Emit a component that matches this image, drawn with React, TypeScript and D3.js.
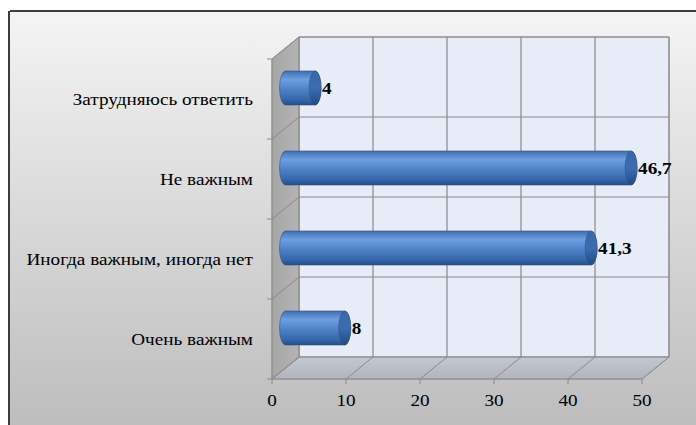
import React from "react";
import * as d3 from "d3";

const categories = ["Затрудняюсь ответить", "Не важным", "Иногда важным, иногда нет", "Очень важным"];
const values = [4, 46.7, 41.3, 8];
const valueLabels = ["4", "46,7", "41,3", "8"];
const xTicks = [0, 10, 20, 30, 40, 50];

const W = 696, H = 425;
const DX = -27, DY = 22;
const STRETCH = 1.13;

export default function App() {
  const x = d3.scaleLinear().domain([0, 50]).range([299, 669]);
  const y = d3.scaleBand<string>().domain(categories).range([37, 357]).paddingInner(0);
  const bw = y.bandwidth();
  const boundaries = d3.range(categories.length + 1).map((i) => 37 + i * bw);
  const mx = DX / 2, my = DY / 2;
  const barH = 34, rx = 6, ry = barH / 2;
  const serif = "'Liberation Serif', 'Times New Roman', serif";
  const [bx0, bx1] = x.range();
  const [by0, by1] = y.range();

  const T = (props: { x: number; y: number; anchor?: string; bold?: boolean; size: number; children: any }) => (
    <g transform={`translate(${props.x},${props.y}) scale(${STRETCH},1)`}>
      <text
        x={0}
        y={0}
        dy="0.35em"
        textAnchor={props.anchor || "start"}
        fontFamily={serif}
        fontWeight={props.bold ? "bold" : "normal"}
        fontSize={props.size}
        fill="#000"
      >
        {props.children}
      </text>
    </g>
  );

  return (
    <svg width={W} height={H} style={{ position: "fixed", left: 0, top: 0 }}>
      <defs>
        <linearGradient id="bg" x1="0" y1="0" x2="0" y2="1">
          <stop offset="0" stopColor="#f4f4f4" />
          <stop offset="1" stopColor="#bdbdbd" />
        </linearGradient>
        <linearGradient id="bar" x1="0" y1="0" x2="0" y2="1">
          <stop offset="0" stopColor="#3f6eae" />
          <stop offset="0.25" stopColor="#6c9fe0" />
          <stop offset="0.5" stopColor="#5286cc" />
          <stop offset="0.85" stopColor="#3466a8" />
          <stop offset="1" stopColor="#244e86" />
        </linearGradient>
        <linearGradient id="cap" x1="0" y1="0" x2="0" y2="1">
          <stop offset="0" stopColor="#3a68a6" />
          <stop offset="0.5" stopColor="#3b6db0" />
          <stop offset="1" stopColor="#234b82" />
        </linearGradient>
        <linearGradient id="wall" x1="0" y1="0" x2="1" y2="0">
          <stop offset="0" stopColor="#a6a6a6" />
          <stop offset="1" stopColor="#b4b4b4" />
        </linearGradient>
        <linearGradient id="floor" x1="0" y1="0" x2="0" y2="1">
          <stop offset="0" stopColor="#c4c8d0" />
          <stop offset="1" stopColor="#b0b4bc" />
        </linearGradient>
      </defs>
      <rect x={0} y={0} width={W} height={H} fill="#ffffff" />
      <rect x={10} y={12} width={W - 10} height={H - 12} fill="url(#bg)" />
      <line x1={10} y1={11} x2={W} y2={11} stroke="#3c3c3c" strokeWidth={2} />
      <line x1={9} y1={11} x2={9} y2={H} stroke="#3c3c3c" strokeWidth={2} />

      <rect x={bx0} y={by0} width={bx1 - bx0} height={by1 - by0} fill="#e7ecf6" stroke="#9a9a9a" />
      <polygon
        points={`${bx0},${by0} ${bx0 + DX},${by0 + DY} ${bx0 + DX},${by1 + DY} ${bx0},${by1}`}
        fill="url(#wall)"
        stroke="#9a9a9a"
      />
      <polygon
        points={`${bx0 + DX},${by1 + DY} ${bx1 + DX},${by1 + DY} ${bx1},${by1} ${bx0},${by1}`}
        fill="url(#floor)"
        stroke="#a0a0a0"
      />
      {xTicks.map((t) => (
        <g key={"gx" + t}>
          <line x1={x(t)} y1={by0} x2={x(t)} y2={by1} stroke="#8a8a8a" strokeWidth={1.2} />
          <line x1={x(t)} y1={by1} x2={x(t) + DX} y2={by1 + DY} stroke="#8a8a8a" strokeWidth={1} />
          <line x1={x(t) + DX} y1={by1 + DY} x2={x(t) + DX} y2={by1 + DY + 5} stroke="#8a8a8a" />
        </g>
      ))}
      {boundaries.map((b, i) => (
        <g key={"gy" + i}>
          <line x1={bx0} y1={b} x2={bx1} y2={b} stroke="#8a8a8a" strokeWidth={1.2} />
          <line x1={bx0} y1={b} x2={bx0 + DX} y2={b + DY} stroke="#8a8a8a" strokeWidth={1} />
          <line x1={bx0 + DX - 5} y1={b + DY} x2={bx0 + DX} y2={b + DY} stroke="#8a8a8a" />
        </g>
      ))}
      <line x1={bx0 + DX} y1={by0 + DY} x2={bx0 + DX} y2={by1 + DY} stroke="#8a8a8a" />
      <line x1={bx0 + DX} y1={by1 + DY} x2={bx1 + DX} y2={by1 + DY} stroke="#8a8a8a" />

      {categories.map((c, i) => {
        const cy = (y(c) as number) + bw / 2 + my;
        const x0 = x(0) + mx;
        const x1 = x(values[i]) + mx;
        const yt = cy - ry, yb = cy + ry;
        const body = `M${x0},${yt} L${x1},${yt} A${rx},${ry} 0 0 1 ${x1},${yb} L${x0},${yb} A${rx},${ry} 0 0 1 ${x0},${yt} Z`;
        return (
          <g key={c}>
            <path d={body} fill="url(#bar)" stroke="#2d5590" strokeWidth={0.6} />
            <ellipse cx={x1} cy={cy} rx={rx} ry={ry} fill="url(#cap)" stroke="#2d5590" strokeWidth={0.6} />
            <T x={x1 + rx + 1} y={cy} bold size={17}>
              {valueLabels[i]}
            </T>
            <T x={253} y={(y(c) as number) + bw / 2 + DY} anchor="end" size={17}>
              {c}
            </T>
          </g>
        );
      })}

      {xTicks.map((t) => (
        <T key={"tl" + t} x={x(t) + DX} y={400} anchor="middle" size={17}>
          {t}
        </T>
      ))}
    </svg>
  );
}
